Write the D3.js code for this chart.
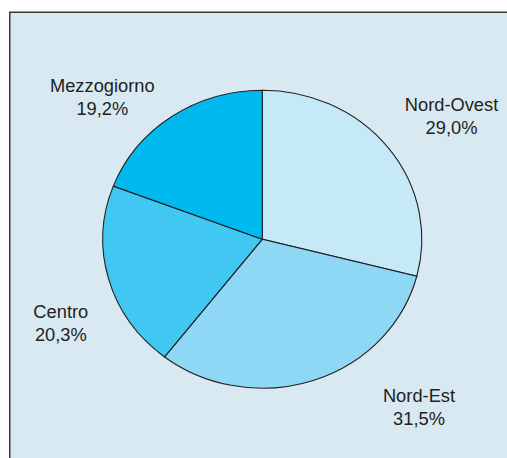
<!DOCTYPE html>
<html>
<head>
<meta charset="utf-8">
<script src="https://cdn.jsdelivr.net/npm/d3@7"></script>
<style>
  html, body { margin: 0; padding: 0; background: #ffffff; }
  svg { display: block; }
</style>
</head>
<body>
<div id="chart"></div>
<script>
// Data -------------------------------------------------------------------------
const categories = ["Nord-Ovest", "Nord-Est", "Centro", "Mezzogiorno"];
const values = [29.0, 31.5, 20.3, 19.2];
const valueLabels = ["29,0%", "31,5%", "20,3%", "19,2%"];

// Canvas -----------------------------------------------------------------------
const canvasWidth = 507;
const canvasHeight = 458;

const svg = d3.select("#chart")
  .append("svg")
  .attr("width", canvasWidth)
  .attr("height", canvasHeight);

// panel with top/left frame
svg.append("rect")
  .attr("x", 9.75)
  .attr("y", 12.25)
  .attr("width", 600)
  .attr("height", 600)
  .attr("fill", "#d8e9f2")
  .attr("stroke", "#3a3a3a")
  .attr("stroke-width", 1.5);

// Pie ---------------------------------------------------------------------------
const cx = 262.3;
const cy = 239.2;
const ry = 149;
const rx = 159.5;

const colors = ["#c6e9f8", "#8fd8f5", "#40c7f2", "#00b9ef"];

const pie = d3.pie().sort(null).value(d => d);
const arc = d3.arc().innerRadius(0).outerRadius(ry);

const pieGroup = svg.append("g")
  .attr("transform", "translate(" + cx + "," + cy + ") scale(" + (rx / ry) + ",1)");

pieGroup.selectAll("path")
  .data(pie(values))
  .join("path")
  .attr("d", arc)
  .attr("fill", (d, i) => colors[i])
  .attr("stroke", "#231f20")
  .attr("stroke-width", 1.1)
  .attr("vector-effect", "non-scaling-stroke");

// Labels ------------------------------------------------------------------------
const labelPos = {
  "Nord-Ovest": [451.5, 111],
  "Nord-Est": [419, 401.5],
  "Centro": [60.8, 318.3],
  "Mezzogiorno": [102.3, 91.7]
};
const lineGap = 23;

const labels = svg.append("g")
  .style("font-family", "'Liberation Sans', Arial, Helvetica, sans-serif")
  .style("font-size", "18.3px")
  .attr("fill", "#231f20")
  .attr("text-anchor", "middle");

categories.forEach(function(c, i) {
  const p = labelPos[c];
  const t = labels.append("text")
    .attr("x", p[0])
    .attr("y", p[1]);
  t.append("tspan").attr("x", p[0]).text(c);
  t.append("tspan").attr("x", p[0]).attr("dy", lineGap).text(valueLabels[i]);
});
</script>
</body>
</html>
